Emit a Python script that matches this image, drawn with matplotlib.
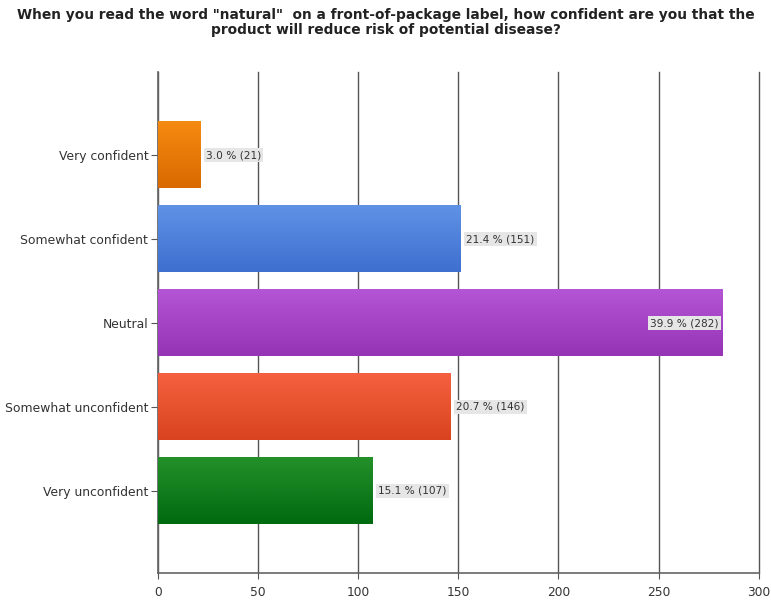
import matplotlib
matplotlib.use("Agg")
import matplotlib.pyplot as plt
import numpy as np
from matplotlib.colors import LinearSegmentedColormap

categories = ["Very confident", "Somewhat confident", "Neutral", "Somewhat unconfident", "Very unconfident"]
counts = [21, 151, 282, 146, 107]
percents = [3.0, 21.4, 39.9, 20.7, 15.1]
top_colors = ["#f58a10", "#5f92e6", "#b455d6", "#f5613f", "#23902a"]
bottom_colors = ["#d86a00", "#3f6fcf", "#9535b5", "#d9431f", "#006a10"]
xticks = [0, 50, 100, 150, 200, 250, 300]
title = 'When you read the word "natural"  on a front-of-package label, how confident are you that the\nproduct will reduce risk of potential disease?'

fig = plt.figure(figsize=(7.71, 6.02), dpi=100)
ax = fig.add_axes([0.205, 0.048, 0.779, 0.832])

bar_h = 0.79
ys = np.arange(len(categories))
bars = ax.barh(ys, counts, height=bar_h, color=top_colors, zorder=3)
for b, c1, c2 in zip(bars, top_colors, bottom_colors):
    cmap = LinearSegmentedColormap.from_list("g", [c1, c2])
    x0, y0 = b.get_x(), b.get_y()
    w, h = b.get_width(), b.get_height()
    grad = np.linspace(0, 1, 100).reshape(-1, 1)
    ax.imshow(grad, cmap=cmap, aspect="auto", extent=[x0, x0 + w, y0 + h, y0],
              zorder=3, interpolation="bicubic")

for y, v, p in zip(ys, counts, percents):
    txt = f"{p:.1f} % ({v})"
    if v > 250:
        ax.text(v - 2, y, txt, ha="right", va="center", fontsize=7.6, color="#333333", zorder=5,
                bbox=dict(boxstyle="square,pad=0.2", fc="#e6e6e6", ec="none"))
    else:
        ax.text(v + 3, y, txt, ha="left", va="center", fontsize=7.6, color="#333333", zorder=5,
                bbox=dict(boxstyle="square,pad=0.2", fc="#e6e6e6", ec="none"))

ax.set_xlim(0, 300)
ax.set_ylim(4.98, -0.99)
ax.set_xticks(xticks)
ax.set_xticklabels([str(t) for t in xticks], fontsize=8.8, color="#333333")
ax.set_yticks(ys)
ax.set_yticklabels(categories, fontsize=8.9, color="#333333")
ax.xaxis.grid(True, color="#555555", linewidth=1.0, zorder=0)
for gl in ax.get_xgridlines():
    gl.set_clip_on(False)
ax.set_axisbelow(True)
for s in ["top", "right"]:
    ax.spines[s].set_visible(False)
for s in ["left", "bottom"]:
    ax.spines[s].set_color("#666666")
    ax.spines[s].set_linewidth(1.2)
ax.tick_params(axis="y", length=5, color="#555555", pad=2)
ax.tick_params(axis="x", length=4, color="#555555", pad=5)

fig.text(0.5, 0.987, title, ha="center", va="top", fontsize=9.9, fontweight="bold", color="#222222",
         linespacing=1.1)

fig.savefig("out.png", dpi=100, facecolor="white")
